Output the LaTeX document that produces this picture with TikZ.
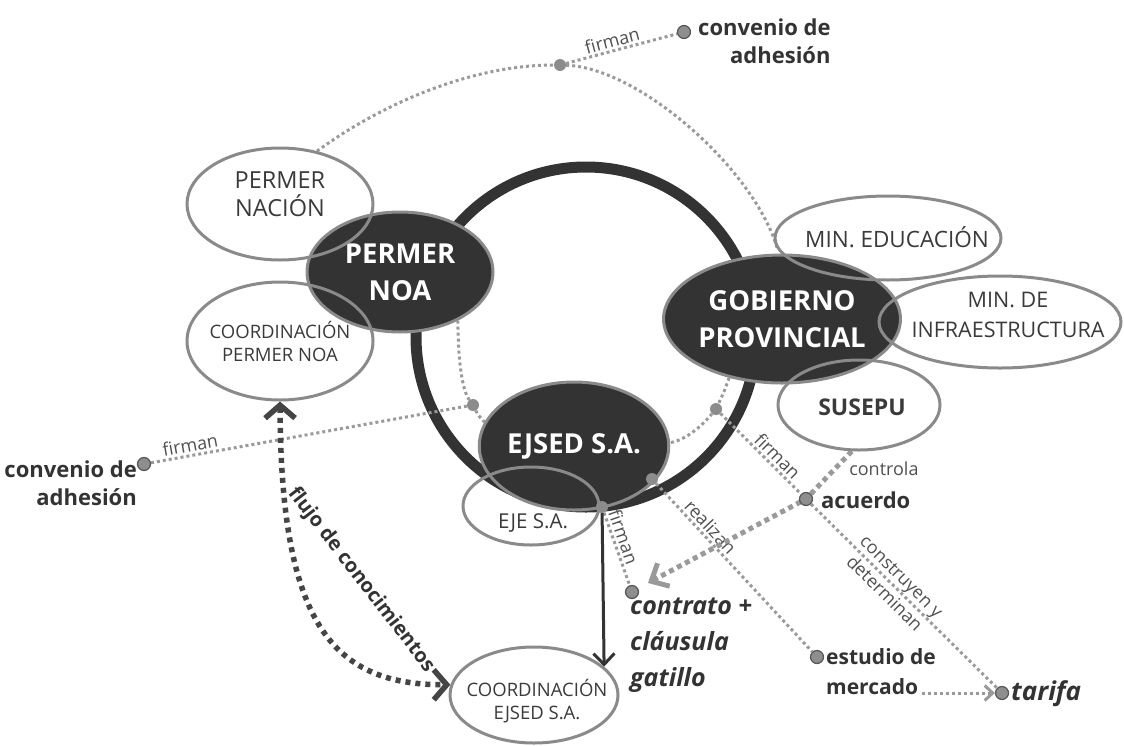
\documentclass[tikz,border=0pt]{standalone}
\usepackage{fontspec}
\setmainfont{Open Sans}
\usetikzlibrary{shapes.geometric,arrows.meta}
\definecolor{dk}{HTML}{333333}
\definecolor{edge}{HTML}{8A8A8A}
\definecolor{dotc}{HTML}{9A9A9A}
\definecolor{hubc}{HTML}{8C8C8C}
\definecolor{endfill}{HTML}{8E8E8E}
\definecolor{enddraw}{HTML}{555555}
\definecolor{txt}{HTML}{3A3A3A}
\definecolor{lblc}{HTML}{505050}
\definecolor{flowc}{HTML}{454545}
\newcommand\setfs[2]{\fontsize{#1}{#2}\selectfont}
\pgfdeclarelayer{ringlayer}
\pgfdeclarelayer{linelayer}
\pgfdeclarelayer{elllayer}
\pgfsetlayers{ringlayer,linelayer,elllayer,main}
\tikzset{
  dkell/.style={ellipse, fill=dk, draw=edge, line width=3pt, text=white,
    font=\setfs{27.5}{37}\bfseries, align=center, inner sep=0pt},
  ltell/.style={ellipse, draw=edge, line width=3pt, inner sep=0pt},
  etxt/.style={text=txt, align=center, inner sep=0pt},
  hubdot/.style={circle, fill=hubc, inner sep=0pt, minimum size=12pt},
  enddot/.style={circle, fill=endfill, draw=enddraw, line width=1.2pt, inner sep=0pt, minimum size=13pt},
  dotline/.style={draw=dotc, line width=3pt, dash pattern=on 3pt off 3pt},
  lbl/.style={text=lblc, font=\setfs{18}{20}, inner sep=2pt},
  bigtxt/.style={text=dk, font=\setfs{22}{28}\bfseries, inner sep=0pt},
  flow/.style={draw=flowc, line width=5.5pt, dash pattern=on 5pt off 5pt,
    {Straight Barb[length=13pt,width=30pt]}-{Straight Barb[length=13pt,width=30pt]}},
  ctrl/.style={draw=dotc, line width=5pt, dash pattern=on 5pt off 4pt,
    -{Straight Barb[length=14pt,width=26pt]}},
  solidarr/.style={draw=dk, line width=3pt, -{Straight Barb[length=11pt,width=21pt]}},
}
\begin{document}
\begin{tikzpicture}[x=1pt,y=-1pt]
\useasboundingbox (0,0) rectangle (1124,745);

% ring
\begin{pgfonlayer}{ringlayer}
\draw[draw=dk, line width=11pt] (586,337) circle[radius=170pt];
\end{pgfonlayer}

% ellipses
\begin{pgfonlayer}{elllayer}
\node[dkell, minimum width=186pt, minimum height=120pt] (pnoa) at (400,272) {PERMER\\NOA};
\node[dkell, minimum width=230pt, minimum height=128pt] (gob) at (782,319) {GOBIERNO\\PROVINCIAL};
\node[dkell, minimum width=186pt, minimum height=128pt] (ejsed) at (574,446) {EJSED S.A.};
\node[ltell, minimum width=186pt, minimum height=112pt] (pn) at (280,204) {};
\node[ltell, minimum width=186pt, minimum height=118pt] (cpn) at (280,341) {};
\node[ltell, minimum width=226pt, minimum height=84pt] (me) at (888,238) {};
\node[ltell, minimum width=242pt, minimum height=92pt] (mi) at (1000,322) {};
\node[ltell, minimum width=162pt, minimum height=90pt] (su) at (859,405) {};
\node[ltell, minimum width=136pt, minimum height=78pt] (eje) at (531,506) {};
\node[ltell, minimum width=168pt, minimum height=96pt] (ce) at (534,695) {};
\end{pgfonlayer}

% ellipse texts
\node[etxt, font=\setfs{23.5}{28}] (pnt) at (280,194) {PERMER\\NACIÓN};
\node[etxt, font=\setfs{18.5}{23}] (cpnt) at (280,341) {COORDINACIÓN\\PERMER NOA};
\node[etxt, font=\setfs{22.5}{28}] (met) at (897,237) {MIN. EDUCACIÓN};
\node[etxt, font=\setfs{21.5}{30}] (mit) at (1008,315) {MIN. DE\\INFRAESTRUCTURA};
\node[etxt, font=\setfs{23}{28}\bfseries] (sut) at (862,407) {SUSEPU};
\node[etxt, font=\setfs{20.5}{22}] (ejet) at (533,523) {EJE S.A.};
\node[etxt, font=\setfs{18.5}{23}] (cet) at (537,701) {COORDINACIÓN\\EJSED S.A.};

% dots
\node[hubdot] (htop) at (560,65) {};
\node[hubdot] (hleft) at (473,405) {};
\node[hubdot] (hright) at (716,409) {};
\node[hubdot] (hbot) at (602,507) {};
\node[hubdot] (hbr) at (652,479) {};
\node[enddot] (ctop) at (684,32) {};
\node[enddot] (cleft) at (144,464) {};
\node[enddot] (acd) at (806,499) {};
\node[enddot] (cdot) at (632,592) {};
\node[enddot] (edot) at (817,657) {};
\node[enddot] (tar) at (1002,693) {};
\coordinate (mend) at (922,693);
\coordinate (ctip) at (648,583);

% outside texts
\node[bigtxt, anchor=west, align=right] (ctoptxt) at (698,41) {convenio de\\adhesión};
\node[bigtxt, anchor=east, align=right] (clefttxt) at (137,483) {convenio de\\adhesión};
\node[bigtxt, anchor=west] (acdtxt) at (821,500) {acuerdo};
\node[bigtxt, anchor=west, align=left, font=\setfs{25}{36}\bfseries\itshape] (ctrtxt) at (630,645) {contrato +\\cláusula\\gatillo};
\node[bigtxt, anchor=west, align=left, font=\setfs{21}{30}\bfseries] (esttxt) at (826,672) {estudio de\\mercado};
\node[bigtxt, anchor=west, font=\setfs{26}{30}\bfseries\itshape] (tartxt) at (1011,694) {tarifa};
\node[text=dk, font=\setfs{20}{24}\bfseries, rotate=-52.4, inner sep=0pt] (flujo) at (361,580) {flujo de conocimientos};

% connectors
\begin{pgfonlayer}{linelayer}
\draw[dotline] (pn.55) .. controls (380,105) and (470,65) .. (htop) .. controls (640,68) and (755,170) .. (me.186);
\draw[dotline] (htop) -- node[lbl, sloped, above, pos=.44] {firman} (ctop);
\draw[dotline] (cleft) -- node[lbl, sloped, above, pos=.13] {firman} (hleft);
\draw[dotline] (pnoa.-40) .. controls (458,360) and (462,390) .. (hleft) .. controls (478,415) .. (ejsed.165);
\draw[dotline] (gob.228) .. controls (724,392) .. (hright) .. controls (700,428) and (685,440) .. (ejsed.2);
\draw[dotline] (hright) -- node[lbl, sloped, above, pos=.62] {firman} (acd);
\draw[dotline] (acd) -- node[lbl, sloped, align=center, pos=.44, font=\setfs{18}{24}] {construyen y\\determinan} (tar);
\draw[dotline] (hbot) -- node[lbl, sloped, above, pos=.38] {firman} (cdot);
\draw[dotline] (hbr) -- node[lbl, sloped, above, pos=.3] {realizan} (edot);
\draw[dotline, -{Straight Barb[length=8pt,width=15pt]}] (mend) -- (tar);
\draw[ctrl] (su.261) -- node[lbl, pos=.37, anchor=west, xshift=10pt] {controla} (acd.center) -- (ctip);
\draw[solidarr] (hbot) -- (ce.22);
\draw[flow] (cpn.south) .. controls (281,620) and (330,685) .. (ce.173);
\end{pgfonlayer}
\end{tikzpicture}
\end{document}
